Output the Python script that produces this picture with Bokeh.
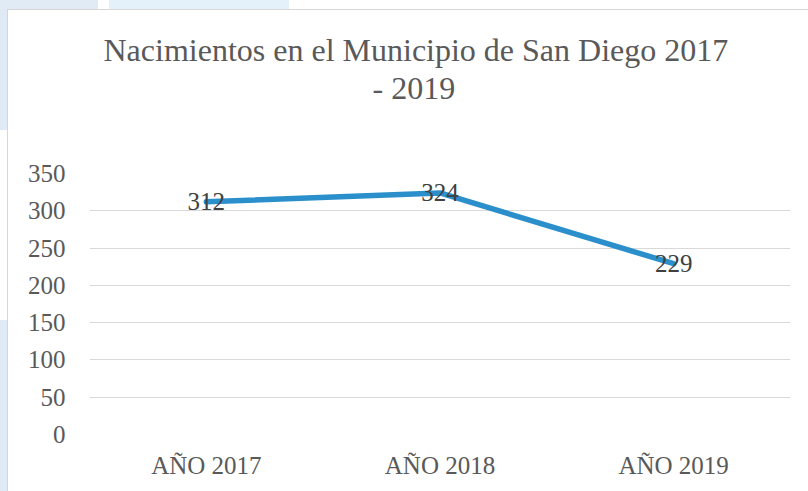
from bokeh.plotting import figure
from bokeh.models import ColumnDataSource, LabelSet, Title, Range1d, FactorRange, FixedTicker
from bokeh.embed import file_html
from bokeh.resources import INLINE

categories = ["AÑO 2017", "AÑO 2018", "AÑO 2019"]
values = [312, 324, 229]
y_ticks = [0, 50, 100, 150, 200, 250, 300, 350]
title_lines = ["Nacimientos en el Municipio de San Diego 2017", "- 2019"]
title_offsets = [14, 283]

FONT = "Liberation Serif"
GRAY = "#595959"

src = ColumnDataSource(dict(cat=categories, val=values, lab=[str(v) for v in values]))

p = figure(width=808, height=491, output_backend="svg", toolbar_location=None, title=None,
           x_range=FactorRange(*categories, range_padding=0),
           y_range=Range1d(0, 350),
           min_border_left=89, min_border_right=18, min_border_top=173, min_border_bottom=57)

# spacer between title and plot area (innermost), then the two title lines
p.add_layout(Title(text=" ", text_font=FONT, text_font_size="59px", text_color="white", standoff=0), "above")
for line, off in reversed(list(zip(title_lines, title_offsets))):
    p.add_layout(Title(text=line, align="left", offset=off, text_font=FONT, text_font_size="32px",
                       text_font_style="normal", text_color=GRAY, standoff=0), "above")

p.outline_line_color = None
p.background_fill_color = "white"
p.border_fill_color = None

# page decoration (document background + chart-area border)
layers = [
    ("#d6d6d6", "7px 9px", "1px 482px"),
    ("#d6d6d6", "7px 9px", "801px 1px"),
    ("#e0ebf5", "0px 0px", "98px 9px"),
    ("#e4f1fa", "109px 0px", "180px 9px"),
    ("#dfeaf5", "0px 0px", "7px 130px"),
    ("#dfeaf5", "0px 320px", "7px 171px"),
]
p.styles = {
    "background-color": "white",
    "background-image": ", ".join(f"linear-gradient({c},{c})" for c, _, _ in layers),
    "background-position": ", ".join(pos for _, pos, _ in layers),
    "background-size": ", ".join(sz for _, _, sz in layers),
    "background-repeat": "no-repeat",
}

p.xgrid.grid_line_color = None
p.ygrid.grid_line_color = "#d9d9d9"
p.ygrid.grid_line_width = 1.2
p.yaxis.ticker = FixedTicker(ticks=y_ticks)

for ax in (p.xaxis[0], p.yaxis[0]):
    ax.axis_line_color = None
    ax.major_tick_line_color = None
    ax.minor_tick_line_color = None
    ax.major_label_text_font = FONT
    ax.major_label_text_font_size = "25px"
    ax.major_label_text_color = GRAY
p.yaxis.major_label_standoff = 18
p.xaxis.major_label_standoff = 11

p.line(x="cat", y="val", source=src, line_width=5.5, line_color="#2a8fcb", line_cap="round", line_join="round")

labels = LabelSet(x="cat", y="val", text="lab", source=src, text_align="center", text_baseline="middle",
                  text_font=FONT, text_font_size="25px", text_color="#404040")
p.add_layout(labels)

open("out.html", "w").write(file_html(p, INLINE))
